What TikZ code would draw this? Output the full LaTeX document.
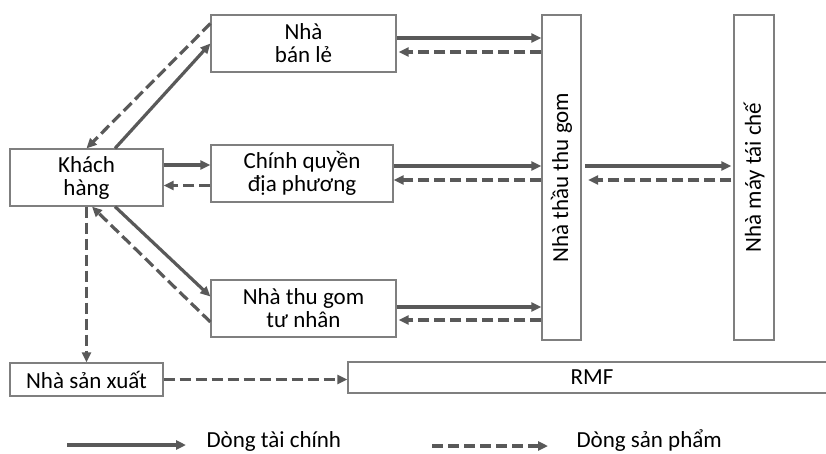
\documentclass[tikz,border=0pt]{standalone}
\usepackage{fontspec,graphicx}
\setmainfont{Carlito}
\usetikzlibrary{arrows.meta,positioning}
\definecolor{ln}{HTML}{595959}
\definecolor{bd}{HTML}{7F7F7F}
\newcommand{\dfont}{\fontsize{23}{23}\selectfont}
\tikzset{
  box/.style={draw=bd,line width=1.2pt,align=center,inner sep=2pt,minimum height=57pt},
  colbox/.style={box,minimum width=39pt,minimum height=325pt},
  fin/.style={-{Triangle[length=10pt,width=9pt]},line width=3.2pt,draw=ln},
  prod/.style={fin,dash pattern=on 11pt off 5pt},
}

\begin{document}
\begin{tikzpicture}[x=1pt,y=-1pt,font=\dfont]
\useasboundingbox (0,0) rectangle (826,454);
\node[box,minimum width=185pt] (banle) at (303.5,43.5) {Nhà\\ bán lẻ};
\node[box,minimum width=153pt] (kh) at (86.5,177.5) {Khách\\ hàng};
\node[box,minimum width=182pt] (cq) at (302,173.5) {Chính quyền\\ địa phương};
\node[box,minimum width=185pt] (tg) at (303.5,308.5) {Nhà thu gom\\ tư nhân};
\node[box,minimum width=153pt,minimum height=33pt] (sx) at (86.5,379.5) {Nhà sản xuất};
\node[colbox] (thau) at (561.5,177.5) {\rotatebox{90}{Nhà thầu thu gom}};
\node[colbox,minimum width=40pt] (may) at (754,177.5) {\rotatebox{90}{Nhà máy tái chế}};
\node[box,minimum width=488pt,minimum height=31pt] (rmf) at (592,377.5) {RMF};
% khach hang
\draw[fin] ([xshift=28.5pt]kh.north) -- (banle.west);
\draw[prod] ([yshift=20pt]banle.west) -- (kh.north);
\draw[fin] ([yshift=12.5pt]kh.east) -- ([yshift=12.5pt]kh.east -| cq.west);
\draw[prod] ([yshift=-12pt]cq.west) -- ([yshift=-12pt]cq.west -| kh.east);
\draw[fin] ([xshift=28.5pt]kh.south) -- ([yshift=12pt]tg.west);
\draw[prod] ([yshift=-13.5pt]tg.west) -- ([xshift=5.5pt]kh.south);
\draw[prod] (kh.south) -- (sx.north);
\draw[prod] (sx.east) -- (sx.east -| rmf.west);
% nha thau
\draw[fin] ([yshift=5.5pt]banle.east) -- ([yshift=5.5pt]banle.east -| thau.west);
\draw[prod] ([yshift=-8.5pt]banle.east -| thau.west) -- ([yshift=-8.5pt,xshift=2pt]banle.east);
\draw[fin] ([yshift=7.5pt]cq.east) -- ([yshift=7.5pt]cq.east -| thau.west);
\draw[prod] ([yshift=-6.5pt]cq.east -| thau.west) -- ([yshift=-6.5pt]cq.east);
\draw[fin] ([yshift=1.5pt]tg.east) -- ([yshift=1.5pt]tg.east -| thau.west);
\draw[prod] ([yshift=-11.5pt]tg.east -| thau.west) -- ([yshift=-11.5pt,xshift=2pt]tg.east);
\draw[fin] ([yshift=7.5pt,xshift=3.5pt]cq.east -| thau.east) -- ([yshift=7.5pt,xshift=-2pt]cq.east -| may.west);
\draw[prod] ([yshift=-6.5pt,xshift=-2pt]cq.east -| may.west) -- ([yshift=-6.5pt,xshift=6.5pt]cq.east -| thau.east);
% legend
\coordinate (lf0) at (67,445);
\node[anchor=west] (lf) at (203,441) {Dòng tài chính};
\draw[fin] (lf0) -- ([xshift=-17pt]lf.west |- lf0);
\coordinate (lp0) at (432,446);
\node[anchor=west] (lp) at (573,441) {Dòng sản phẩm};
\draw[prod] (lp0) -- ([xshift=-25pt]lp.west |- lp0);
\end{tikzpicture}
\end{document}
